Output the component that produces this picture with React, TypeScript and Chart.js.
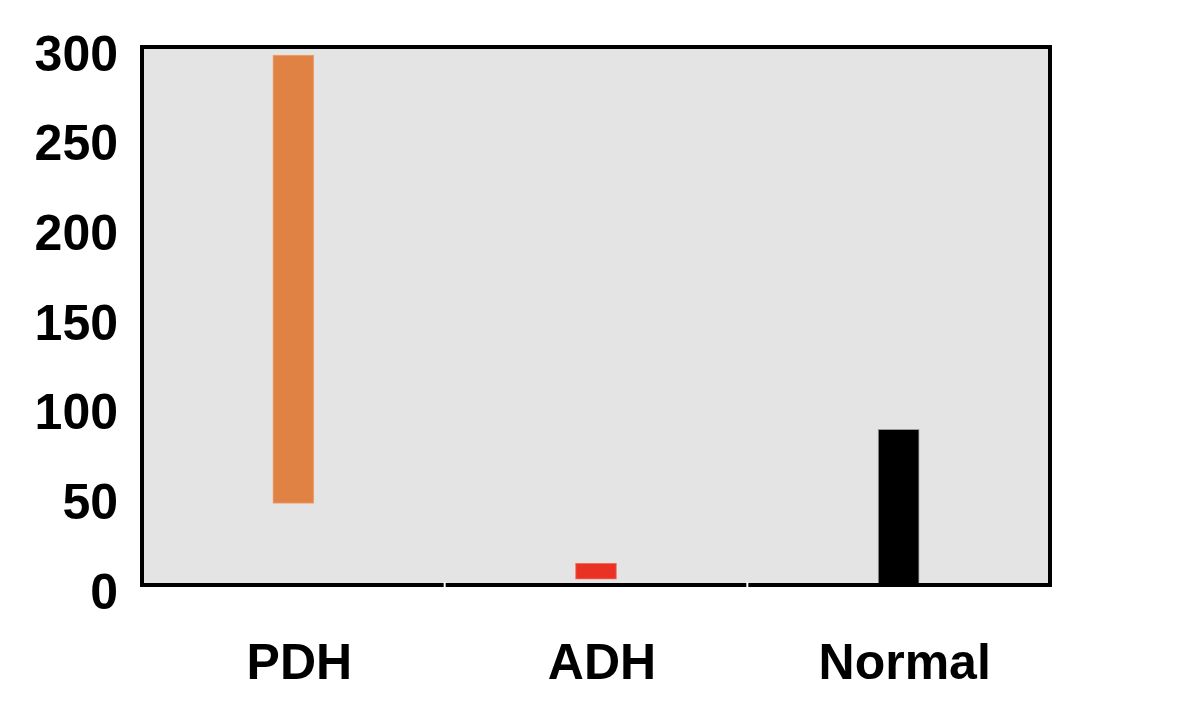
import React, { useEffect, useRef } from "react";
import { Chart, registerables } from "chart.js";

Chart.register(...registerables);

const categories = ["PDH", "ADH", "Normal"];
const rangeLow = [45.5, 3.2, 0.5];
const rangeHigh = [295.5, 12.1, 86.8];
const barColors = ["#e08243", "#e93223", "#000000"];
const barEdges = ["#eda575", "#f06a5e", "#9a9a9a"];
const yTicks = [0, 50, 100, 150, 200, 250, 300];

const framePlugin = {
  id: "frame",
  beforeDraw(chart: any) {
    const { ctx, chartArea: a } = chart;
    ctx.save();
    ctx.fillStyle = "#e4e4e4";
    ctx.fillRect(a.left, a.top, a.right - a.left, a.bottom - a.top);
    ctx.restore();
  },
  afterDatasetsDraw(chart: any) {
    const { ctx, chartArea: a } = chart;
    ctx.save();
    ctx.strokeStyle = "#000";
    ctx.lineWidth = 4;
    ctx.strokeRect(a.left, a.top, a.right - a.left, a.bottom - a.top);
    const xs = chart.scales.x;
    ctx.strokeStyle = "#ffffff";
    ctx.lineWidth = 2;
    for (let i = 0; i < categories.length - 1; i++) {
      const px = (xs.getPixelForValue(i) + xs.getPixelForValue(i + 1)) / 2;
      ctx.beginPath();
      ctx.moveTo(px, a.bottom - 3);
      ctx.lineTo(px, a.bottom + 3);
      ctx.stroke();
    }
    ctx.restore();
  },
};

export default function App() {
  const ref = useRef<HTMLCanvasElement | null>(null);
  useEffect(() => {
    document.body.style.margin = "0";
    const font = { family: "'Liberation Sans', Arial, sans-serif", size: 50, weight: "bold" as const };
    const chart = new Chart(ref.current as HTMLCanvasElement, {
      type: "bar",
      data: {
        labels: categories,
        datasets: [
          {
            data: categories.map((_, i) => [rangeLow[i], rangeHigh[i]]) as any,
            backgroundColor: barColors,
            borderColor: barEdges,
            borderWidth: 1,
            borderSkipped: false,
            barThickness: 41,
          },
        ],
      },
      options: {
        animation: false,
        responsive: false,
        maintainAspectRatio: false,
        layout: { padding: { top: 47, right: 154, left: 0, bottom: 0 } },
        plugins: { legend: { display: false }, tooltip: { enabled: false } },
        scales: {
          x: {
            grid: { display: false },
            border: { display: false },
            ticks: { color: "#000", font, padding: 42, labelOffset: 6 },
            afterFit(scale: any) {
              scale.height = 139;
              scale.paddingLeft = 0;
              scale.paddingRight = 0;
            },
          },
          y: {
            min: 0,
            max: 300,
            afterBuildTicks(scale: any) {
              scale.ticks = yTicks.map((v) => ({ value: v }));
            },
            grid: { display: false, drawTicks: false },
            border: { display: false },
            ticks: { color: "#000", font, padding: 24, labelOffset: 10 },
            afterFit(scale: any) {
              scale.width = 142;
              scale.paddingTop = 0;
              scale.paddingBottom = 0;
            },
          },
        },
      },
      plugins: [framePlugin],
    });
    return () => chart.destroy();
  }, []);
  return (
    <div style={{ position: "absolute", left: 0, top: 0, width: 1204, height: 724 }}>
      <canvas ref={ref} width={1204} height={724} />
    </div>
  );
}
